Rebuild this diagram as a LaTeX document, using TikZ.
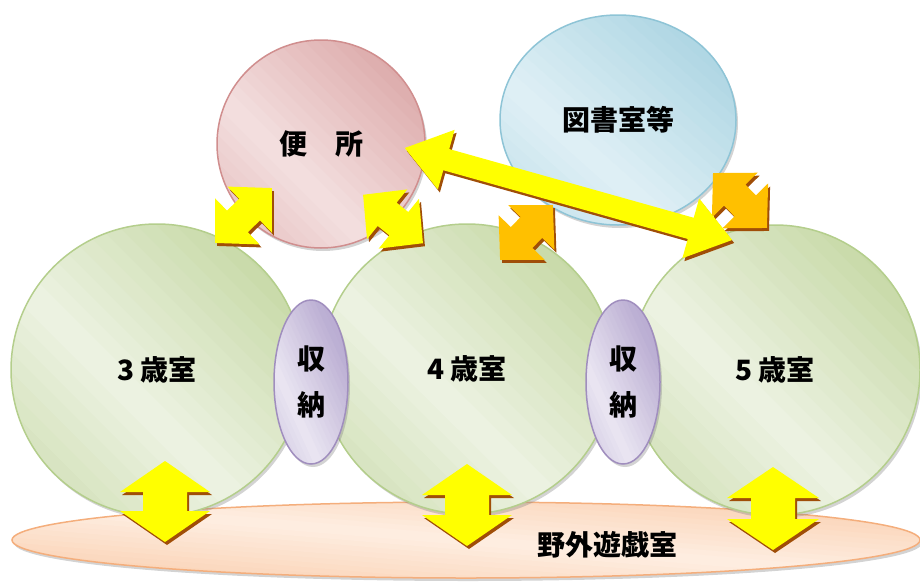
\documentclass[tikz,border=0pt]{standalone}
\usepackage{fontspec}
\newfontfamily\jp{Noto Sans CJK JP}
\usetikzlibrary{shapes.geometric,shadows,calc}
\definecolor{grD}{HTML}{C3D6A0}
\definecolor{grL}{HTML}{EDF3E3}
\definecolor{grB}{HTML}{B4CE8C}
\definecolor{pkD}{HTML}{DCAAAA}
\definecolor{pkL}{HTML}{F4E0E0}
\definecolor{pkB}{HTML}{D08E8E}
\definecolor{blD}{HTML}{AED6E3}
\definecolor{blL}{HTML}{E0F0F6}
\definecolor{blB}{HTML}{8EC4D6}
\definecolor{lvD}{HTML}{BBAED3}
\definecolor{lvL}{HTML}{EAE6F2}
\definecolor{lvB}{HTML}{A08EBE}
\definecolor{pcD}{HTML}{FACDAC}
\definecolor{pcL}{HTML}{FEEEE2}
\definecolor{pcB}{HTML}{F4AE7C}
\definecolor{arY}{HTML}{FFFF00}
\definecolor{arO}{HTML}{FFC000}
\definecolor{arS}{HTML}{A04E08}
\tikzset{
  lbl/.style={font=\jp\bfseries\fontsize{28}{30}\selectfont, inner sep=0pt},
  gradfill/.style n args={2}{fill=#1, path picture={
    \pgfpointdiff{\pgfpointanchor{path picture bounding box}{south west}}%
                 {\pgfpointanchor{path picture bounding box}{north east}}%
    \pgfgetlastxy{\gw}{\gh}%
    \pgfmathsetlengthmacro\gx{\gw/2}%
    \pgfmathsetlengthmacro\gy{\gh/2}%
    \begin{scope}[shift={(path picture bounding box.center)}, x=\gx, y=\gy]
      \foreach \k in {0,...,29}{
        \pgfmathsetmacro\ga{-2+\k*4/30}
        \pgfmathsetmacro\gb{-2+(\k+1)*4/30+0.03}
        \pgfmathsetmacro\gm{abs(-2+(\k+0.5)*4/30)*50}
        \fill[#1!\gm!#2] (\ga+2,-2) -- (\gb+2,-2) -- (\gb-2,2) -- (\ga-2,2) -- cycle;
      }
    \end{scope}}},
  blob/.style n args={3}{ellipse, draw=#3, line width=1.5pt, gradfill={#1}{#2},
    drop shadow={shadow xshift=2pt, shadow yshift=-3pt, opacity=0.35},
    inner sep=0pt, lbl},
  room/.style={blob={grD}{grL}{grB}},
  pics/dbl/.style n args={4}{code={
    \path[pic actions] (-#1,0) -- (-#1+#4,#3) -- (-#1+#4,#2) -- (#1-#4,#2)
      -- (#1-#4,#3) -- (#1,0) -- (#1-#4,-#3) -- (#1-#4,-#2) -- (-#1+#4,-#2)
      -- (-#1+#4,-#3) -- cycle;}}
}
\newcommand{\dblarr}[7]{%
  \pic[fill=arS, rotate=#3] at ($(#2)+(2,3)$) {dbl={#4}{#5}{#6}{#7}};
  \pic[fill=#1, rotate=#3] at (#2) {dbl={#4}{#5}{#6}{#7}};}
\begin{document}
\begin{tikzpicture}[x=1pt, y=-1pt]
\useasboundingbox (0,0) rectangle (920,581);
% outdoor play room
\node[blob={pcD}{pcL}{pcB}, minimum width=908, minimum height=76] (play) at (466,540) {};
\node[lbl] (playlbl) at (607,545) {野外遊戯室};
% class rooms
\node[room, minimum width=292, minimum height=292] (r3) at (157,370) {3 歳室};
\node[room, minimum width=292, minimum height=290] (r4) at (467,369) {4 歳室};
\node[room, minimum width=290, minimum height=290] (r5) at (775,370) {5 歳室};
% toilet, library
\node[blob={pkD}{pkL}{pkB}, minimum width=208, minimum height=208] (wc) at (321,144) {便　所};
\node[blob={blD}{blL}{blB}, minimum width=236, minimum height=210] (lib) at (618,120) {図書室等};
% storage
\node[blob={lvD}{lvL}{lvB}, minimum width=74, minimum height=164, align=center,
      font=\jp\bfseries\fontsize{28}{46}\selectfont] (st1) at (311,382) {収\\納};
\node[blob={lvD}{lvL}{lvB}, minimum width=74, minimum height=164, align=center,
      font=\jp\bfseries\fontsize{28}{46}\selectfont] (st2) at (623,382) {収\\納};
% vertical arrows to the outdoor play room
\dblarr{arY}{165,501.5}{90}{40.5}{22}{45}{31}
\dblarr{arY}{467,505}{90}{41}{22}{45}{31}
\dblarr{arY}{773,508.5}{90}{41.5}{22}{46}{31}
% diagonal arrows
\dblarr{arY}{243.5,215.5}{44}{39.5}{15}{32}{31}
\dblarr{arY}{393,219}{-39}{38.5}{15}{32}{31}
\dblarr{arO}{526.5,232.5}{46}{38}{15}{32}{31}
\dblarr{arO}{740,200.5}{-45.5}{38.5}{15}{32}{31}
% long arrow toilet <-> 5 year room
\dblarr{arY}{568.5,194}{-15.7}{170}{11}{31}{43}
\end{tikzpicture}
\end{document}
